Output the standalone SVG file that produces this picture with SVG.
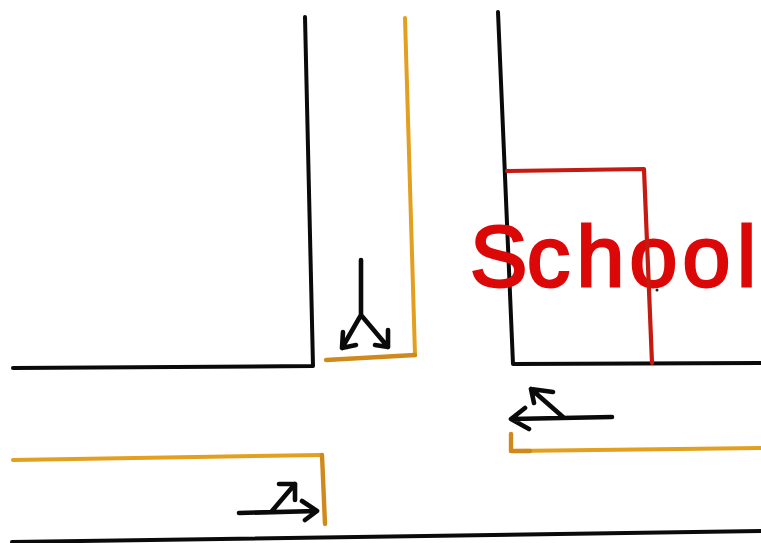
<svg xmlns="http://www.w3.org/2000/svg" width="761" height="543" viewBox="0 0 761 543">
<style>
.k{fill:none;stroke:#0a0a0a;stroke-width:4;stroke-linecap:round;stroke-linejoin:round}
.a{fill:none;stroke:#0a0a0a;stroke-width:4.6;stroke-linecap:round;stroke-linejoin:round}
.o{fill:none;stroke:#e2a01e;stroke-width:4;stroke-linecap:round;stroke-linejoin:round}
.d{fill:none;stroke:#d08a1c;stroke-width:4.4;stroke-linecap:round;stroke-linejoin:round}
.r{fill:none;stroke:#c41a10;stroke-width:4.2;stroke-linecap:round;stroke-linejoin:round}
</style>
<rect width="761" height="543" fill="#fff"/>
<g id="connectors">
<path id="curb-nw" class="k" d="M305 17L313 366L13 368"/>
<path id="curb-e-orange" class="o" d="M405 18L415 355"/>
<path class="d" d="M326 360L415 355"/>
<path id="curb-ne" class="k" d="M498 12L513 364L761 363"/>
<path id="curb-sw" class="o" d="M13 460L322 455"/>
<path class="d" d="M322 455L325 524"/>
<path id="curb-se" class="o" d="M511 451L761 448"/>
<path class="d" d="M511 434L511 451L530 451"/>
<path id="road-south" class="k" d="M12 542L761 531"/>
</g>
<g id="arrow-south">
<path class="a" d="M361 260L361 315L342 348M361 315L388 347M343 332L342 348L356 345M388 330L388 347L375 345"/>
</g>
<g id="arrow-west">
<path class="a" d="M612 417L511 419M525 408L511 419L529 429M563 417L531 389M534 403L531 389L553 392"/>
</g>
<g id="arrow-east">
<path class="a" d="M239 513L317 511M302 501L317 511L305 520M272 511L295 484M279 484L295 484L295 500"/>
</g>
<g id="school">
<text x="470 527 576.5 629.5 682.5 737" y="285.5" font-family="Liberation Sans, Arial, sans-serif" font-size="86" fill="#dc0808" stroke="#dc0808" stroke-width="2.8">School</text>
<path class="r" d="M507 171L644 169L652 363"/>
<circle cx="657" cy="290" r="1.5" fill="#222"/>
</g>
</svg>
